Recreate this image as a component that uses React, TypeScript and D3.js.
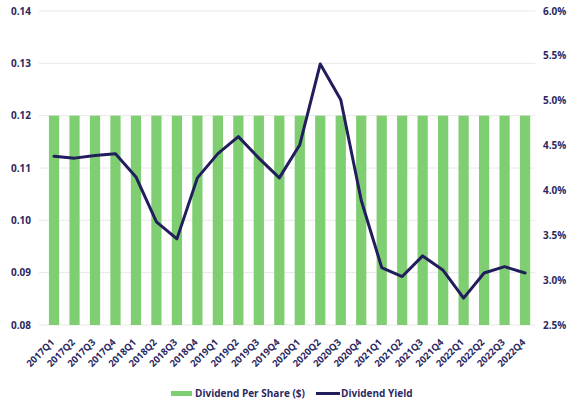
import React from "react";
import * as d3 from "d3";

const categories = [
  "2017Q1","2017Q2","2017Q3","2017Q4",
  "2018Q1","2018Q2","2018Q3","2018Q4",
  "2019Q1","2019Q2","2019Q3","2019Q4",
  "2020Q1","2020Q2","2020Q3","2020Q4",
  "2021Q1","2021Q2","2021Q3","2021Q4",
  "2022Q1","2022Q2","2022Q3","2022Q4",
];
const dividendPerShare = [
  0.12,0.12,0.12,0.12,0.12,0.12,0.12,0.12,0.12,0.12,0.12,0.12,
  0.12,0.12,0.12,0.12,0.12,0.12,0.12,0.12,0.12,0.12,0.12,0.12,
];
const dividendYield = [
  4.38,4.36,4.39,4.41,
  4.15,3.65,3.46,4.14,
  4.41,4.60,4.36,4.14,
  4.51,5.41,5.01,3.89,
  3.14,3.04,3.27,3.11,
  2.80,3.08,3.15,3.08,
];
const leftTicks = [0.08,0.09,0.10,0.11,0.12,0.13,0.14];
const rightTicks = [2.5,3.0,3.5,4.0,4.5,5.0,5.5,6.0];

const W = 571, H = 402;
const plotLeft = 43.8, plotRight = 535.3, plotTop = 11, plotBottom = 325;
const GREEN = "#7fcf72";
const NAVY = "#221d5c";
const TEXT = "#2b2862";
const FONT = "'Open Sans', 'DejaVu Sans', sans-serif";

export default function App() {
  const x = d3.scaleBand<string>().domain(categories).range([plotLeft, plotRight]).paddingInner(0.5).paddingOuter(0.25);
  const yL = d3.scaleLinear().domain([0.08, 0.14]).range([plotBottom, plotTop]);
  const yR = d3.scaleLinear().domain([2.5, 6.0]).range([plotBottom, plotTop]);
  const line = d3.line<number>()
    .x((_, i) => (x(categories[i]) as number) + x.bandwidth() / 2)
    .y((d) => yR(d));

  return (
    <svg width={W} height={H} style={{ position: "absolute", left: 0, top: 0, background: "#fff" }}>
      {leftTicks.map((t) => (
        <line key={"g" + t} x1={plotLeft - 5} x2={plotRight} y1={yL(t)} y2={yL(t)} stroke="#e8e8e8" strokeWidth={1} />
      ))}
      {categories.map((c, i) => (
        <rect key={c} x={x(c)} y={yL(dividendPerShare[i])} width={x.bandwidth()} height={yL(0.08) - yL(dividendPerShare[i])} fill={GREEN} />
      ))}
      <path d={line(dividendYield) || ""} fill="none" stroke={NAVY} strokeWidth={3} strokeLinejoin="round" strokeLinecap="round" />
      {leftTicks.map((t) => (
        <text key={"l" + t} x={31} y={yL(t) + 3.5} textAnchor="end" fontFamily={FONT} fontWeight={700} fontSize={10} fill={TEXT}>
          {d3.format(".2f")(t)}
        </text>
      ))}
      {rightTicks.map((t) => (
        <text key={"r" + t} x={543} y={yR(t) + 3.5} textAnchor="start" fontFamily={FONT} fontWeight={700} fontSize={10} fill={TEXT}>
          {d3.format(".1f")(t) + "%"}
        </text>
      ))}
      {categories.map((c) => {
        const cx = (x(c) as number) + x.bandwidth() / 2 + 1;
        const cy = 343;
        return (
          <text key={"x" + c} x={cx} y={cy} transform={`rotate(-45 ${cx} ${cy})`} textAnchor="end" fontFamily={FONT} fontWeight={700} fontSize={9.5} fill={TEXT}>
            {c}
          </text>
        );
      })}
      <rect x={171} y={391} width={21} height={5} fill={GREEN} />
      <text x={195} y={397} fontFamily={FONT} fontWeight={700} fontSize={10} fill={TEXT}>Dividend Per Share ($)</text>
      <line x1={316} x2={340} y1={393.5} y2={393.5} stroke={NAVY} strokeWidth={3} />
      <text x={341} y={397} fontFamily={FONT} fontWeight={700} fontSize={10} fill={TEXT}>Dividend Yield</text>
    </svg>
  );
}
